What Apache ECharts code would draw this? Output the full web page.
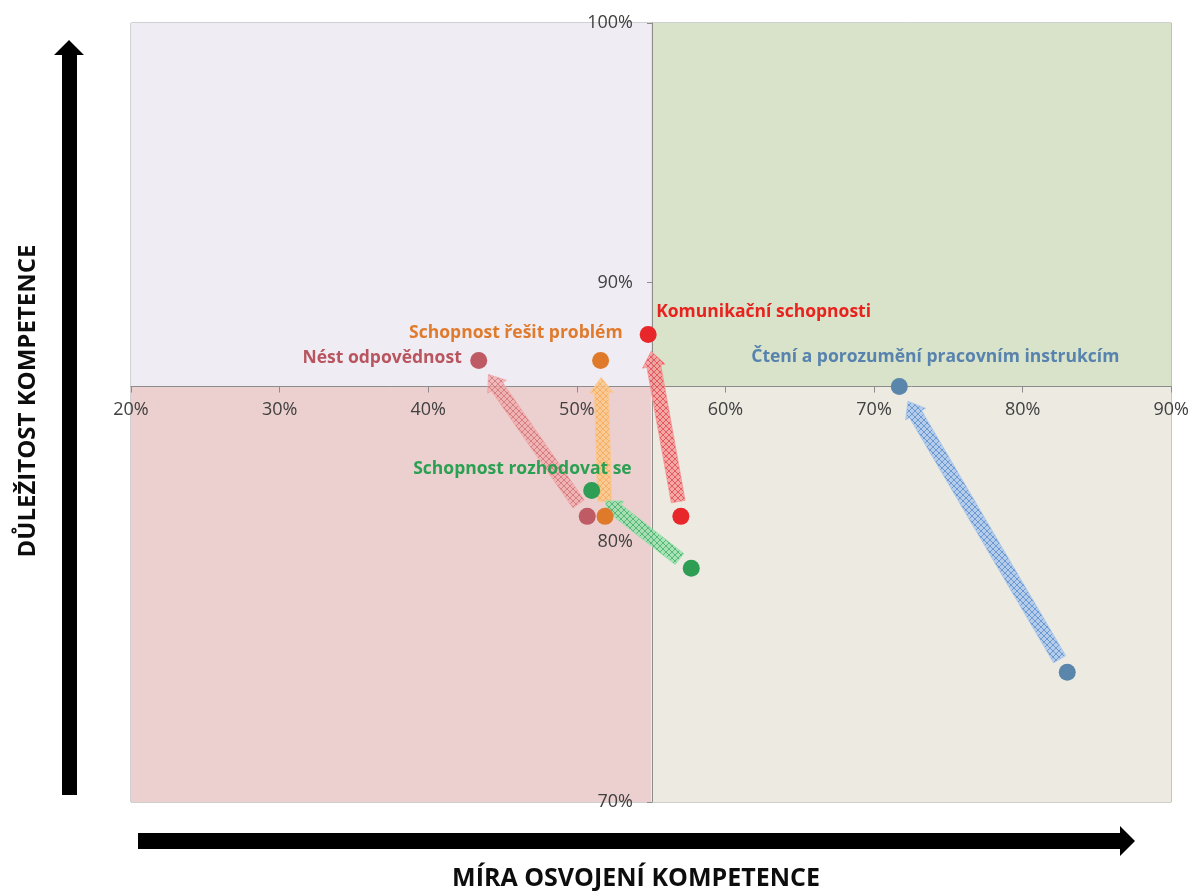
<!DOCTYPE html>
<html>
<head>
<meta charset="utf-8">
<script src="https://cdn.jsdelivr.net/npm/echarts@6/dist/echarts.min.js"></script>
<style>
  html, body { margin: 0; padding: 0; background: #ffffff; }
  #chart { width: 1192px; height: 891px; }
</style>
</head>
<body>
<div id="chart"></div>
<script>
// Competencies: where each one started and where it moved to (mastery %, importance %)
const competencies = [
  'Komunikační schopnosti',
  'Schopnost řešit problém',
  'Nést odpovědnost',
  'Schopnost rozhodovat se',
  'Čtení a porozumění pracovním instrukcím'
];
const masteryFrom    = [57.0, 51.9, 50.7, 57.7, 83.0];
const importanceFrom = [81.0, 81.0, 81.0, 79.0, 75.0];
const masteryTo      = [54.8, 51.6, 43.4, 51.0, 71.7];
const importanceTo   = [88.0, 87.0, 87.0, 82.0, 86.0];

// Axis ranges and the quadrant split lines
const xMin = 20, xMax = 90, xStep = 10;
const yMin = 70, yMax = 100, yStep = 10;
const xSplit = 55, ySplit = 86;

const xTitle = 'MÍRA OSVOJENÍ KOMPETENCE';
const yTitle = 'DŮLEŽITOST KOMPETENCE';

// Styling per competency
const pointColors = ['#E8272A', '#E07A2B', '#BE5B64', '#2E9E55', '#5A86AC'];
const labelColors = ['#E8231F', '#E07B2E', '#B9555F', '#2BA052', '#5883AE'];
const arrowLight  = ['rgba(245,150,150,0.8)', 'rgba(252,200,140,0.85)', 'rgba(240,170,170,0.75)', 'rgba(150,225,170,0.8)', 'rgba(170,200,235,0.85)'];
const arrowHatch  = ['rgba(225,70,75,0.8)', 'rgba(245,170,90,0.8)', 'rgba(205,110,115,0.75)', 'rgba(60,170,100,0.75)', 'rgba(90,140,200,0.8)'];
// label placement relative to the end point: [align, dx, dy]
const labelPlace = [
  ['left', 8, -23],
  ['right', 22, -28],
  ['right', -17, -3],
  ['right', 40, -21],
  ['center', 36, -30]
];

const grid = { left: 131, right: 19, top: 23, bottom: 89 };
const W = 1192, H = 891;
const plotW = W - grid.left - grid.right;
const plotH = H - grid.top - grid.bottom;

function hatchPattern(light, dark) {
  const c = document.createElement('canvas');
  c.width = 6; c.height = 6;
  const g = c.getContext('2d');
  g.fillStyle = light;
  g.fillRect(0, 0, 6, 6);
  g.strokeStyle = dark;
  g.lineWidth = 1;
  g.beginPath();
  g.moveTo(0, 0); g.lineTo(6, 6);
  g.moveTo(6, 0); g.lineTo(0, 6);
  g.stroke();
  return { image: c, repeat: 'repeat' };
}
const patterns = competencies.map((_, i) => hatchPattern(arrowLight[i], arrowHatch[i]));

const arrowData = competencies.map((n, i) => [masteryFrom[i], importanceFrom[i], masteryTo[i], importanceTo[i]]);
const fromPoints = competencies.map((n, i) => ({
  value: [masteryFrom[i], importanceFrom[i]],
  itemStyle: { color: pointColors[i], opacity: 1 }
}));
const toPoints = competencies.map((n, i) => ({
  value: [masteryTo[i], importanceTo[i]],
  name: n,
  itemStyle: { color: pointColors[i], opacity: 1 },
  label: {
    show: true,
    formatter: n,
    position: 'inside',
    align: labelPlace[i][0],
    verticalAlign: 'middle',
    offset: [labelPlace[i][1], labelPlace[i][2]],
    color: labelColors[i]
  }
}));

function renderArrow(params, api) {
  const i = params.dataIndex;
  const p0 = api.coord([api.value(0), api.value(1)]);
  const p1 = api.coord([api.value(2), api.value(3)]);
  let dx = p1[0] - p0[0], dy = p1[1] - p0[1];
  const len = Math.sqrt(dx * dx + dy * dy);
  dx /= len; dy /= len;
  const nx = -dy, ny = dx;
  const startGap = 15, endGap = 17, headLen = 15, shaftHalf = 7, headHalf = 11.5;
  const a = [p0[0] + dx * startGap, p0[1] + dy * startGap];
  const b = [p1[0] - dx * endGap, p1[1] - dy * endGap];
  const c = [b[0] - dx * headLen, b[1] - dy * headLen];
  const pts = [
    [a[0] + nx * shaftHalf, a[1] + ny * shaftHalf],
    [c[0] + nx * shaftHalf, c[1] + ny * shaftHalf],
    [c[0] + nx * headHalf, c[1] + ny * headHalf],
    b,
    [c[0] - nx * headHalf, c[1] - ny * headHalf],
    [c[0] - nx * shaftHalf, c[1] - ny * shaftHalf],
    [a[0] - nx * shaftHalf, a[1] - ny * shaftHalf]
  ];
  return {
    type: 'polygon',
    shape: { points: pts },
    style: { fill: patterns[i], stroke: arrowLight[i], lineWidth: 1 }
  };
}

const chart = echarts.init(document.getElementById('chart'), null, { renderer: 'canvas' });

const tickFont = { fontFamily: 'Open Sans', fontSize: 18, color: '#404040' };

chart.setOption({
  animation: false,
  backgroundColor: '#ffffff',
  grid: {
    left: grid.left, right: grid.right, top: grid.top, bottom: grid.bottom,
    show: true, borderColor: '#a0a0a0', borderWidth: 1, backgroundColor: 'transparent'
  },
  xAxis: {
    type: 'value', min: xMin, max: xMax, interval: xStep,
    position: 'bottom',
    offset: -(ySplit - yMin) / (yMax - yMin) * plotH,
    z: 10,
    axisLine: { show: true, onZero: false, lineStyle: { color: '#8c8c8c', width: 1 } },
    axisTick: { show: true, length: 6, lineStyle: { color: '#8c8c8c' } },
    axisLabel: Object.assign({ margin: 14, formatter: v => v + '%' }, tickFont),
    splitLine: { show: false }
  },
  yAxis: {
    type: 'value', min: yMin, max: yMax, interval: yStep,
    position: 'left',
    offset: -(xSplit - xMin) / (xMax - xMin) * plotW,
    z: 10,
    axisLine: { show: true, onZero: false, lineStyle: { color: '#8c8c8c', width: 1 } },
    axisTick: { show: true, length: 5, lineStyle: { color: '#8c8c8c' } },
    axisLabel: Object.assign({ margin: 19, formatter: v => v + '%' }, tickFont),
    splitLine: { show: false }
  },
  series: [
    {
      // quadrant backgrounds
      type: 'scatter',
      data: [],
      z: 1,
      silent: true,
      markArea: {
        silent: true,
        z: 1,
        data: [
          [{ coord: [xMin, ySplit], itemStyle: { color: '#EFEDF3', opacity: 1 } }, { coord: [xSplit, yMax] }],
          [{ coord: [xSplit, ySplit], itemStyle: { color: '#D8E3C9', opacity: 1 } }, { coord: [xMax, yMax] }],
          [{ coord: [xMin, yMin], itemStyle: { color: '#EBD0CF', opacity: 1 } }, { coord: [xSplit, ySplit] }],
          [{ coord: [xSplit, yMin], itemStyle: { color: '#EDEAE2', opacity: 1 } }, { coord: [xMax, ySplit] }]
        ]
      }
    },
    {
      type: 'custom',
      z: 15,
      silent: true,
      encode: { x: [0, 2], y: [1, 3] },
      data: arrowData,
      renderItem: renderArrow
    },
    {
      type: 'scatter',
      z: 20,
      symbolSize: 17,
      data: fromPoints
    },
    {
      type: 'scatter',
      z: 20,
      symbolSize: 17,
      label: { fontFamily: 'Open Sans', fontWeight: 'bold', fontSize: 17.5 },
      data: toPoints
    }
  ],
  graphic: [
    {
      // vertical axis arrow
      type: 'polygon',
      shape: { points: [[62, 795], [62, 55], [54, 55], [69, 40], [84, 55], [77, 55], [77, 795]] },
      style: { fill: '#000000' }
    },
    {
      // horizontal axis arrow
      type: 'polygon',
      shape: { points: [[138, 833], [1120, 833], [1120, 826], [1135, 841], [1120, 856], [1120, 849], [138, 849]] },
      style: { fill: '#000000' }
    },
    {
      type: 'text',
      x: 636, y: 879,
      style: {
        text: xTitle, x: 0, y: 0, align: 'center', verticalAlign: 'middle',
        fontFamily: 'Open Sans', fontWeight: 'bold', fontSize: 25, fill: '#0d0d0d'
      }
    },
    {
      type: 'text',
      x: 28, y: 401,
      rotation: Math.PI / 2,
      style: {
        text: yTitle, x: 0, y: 0, align: 'center', verticalAlign: 'middle',
        fontFamily: 'Open Sans', fontWeight: 'bold', fontSize: 24, fill: '#0d0d0d'
      }
    }
  ]
});
</script>
</body>
</html>
